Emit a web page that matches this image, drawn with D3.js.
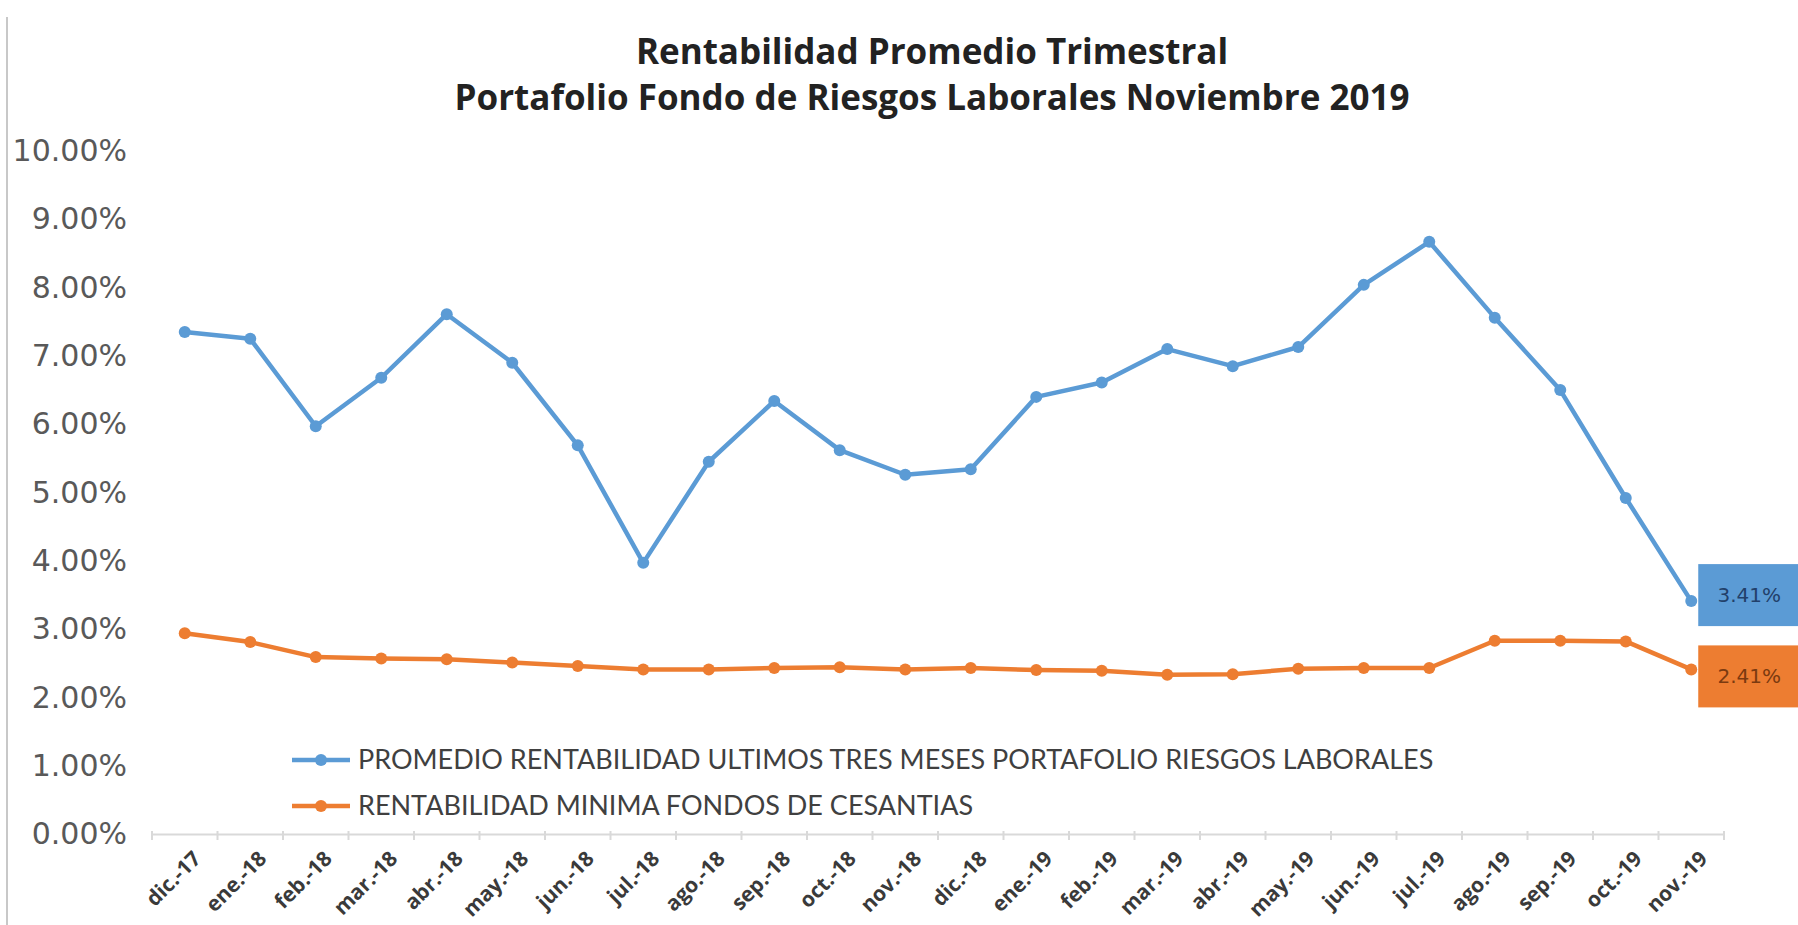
<!DOCTYPE html>
<html>
<head>
<meta charset="utf-8">
<script src="https://cdn.jsdelivr.net/npm/d3@7/dist/d3.min.js"></script>
<style>
  html, body { margin: 0; padding: 0; background: #fff; }
  #chart svg { display: block; }
</style>
</head>
<body>
<div id="chart"></div>
<script>
const $ = (element) => d3.select(element);

const categories = [
  "dic.-17", "ene.-18", "feb.-18", "mar.-18", "abr.-18", "may.-18",
  "jun.-18", "jul.-18", "ago.-18", "sep.-18", "oct.-18", "nov.-18",
  "dic.-18", "ene.-19", "feb.-19", "mar.-19", "abr.-19", "may.-19",
  "jun.-19", "jul.-19", "ago.-19", "sep.-19", "oct.-19", "nov.-19",
];
const promedio = [
  7.35, 7.25, 5.97, 6.68, 7.61, 6.9, 5.69, 3.97, 5.45, 6.34, 5.62, 5.26,
  5.34, 6.4, 6.61, 7.1, 6.85, 7.13, 8.04, 8.67, 7.56, 6.5, 4.92, 3.41,
];
const minima = [
  2.94, 2.81, 2.59, 2.57, 2.56, 2.51, 2.46, 2.41, 2.41, 2.43, 2.44, 2.41,
  2.43, 2.4, 2.39, 2.33, 2.34, 2.42, 2.43, 2.43, 2.83, 2.83, 2.82, 2.41,
];
const yTicks = [0, 1, 2, 3, 4, 5, 6, 7, 8, 9, 10];
const titleLines = [
  "Rentabilidad Promedio Trimestral",
  "Portafolio Fondo de Riesgos Laborales Noviembre 2019",
];
const seriesNames = [
  "PROMEDIO RENTABILIDAD ULTIMOS TRES MESES PORTAFOLIO RIESGOS LABORALES",
  "RENTABILIDAD MINIMA FONDOS DE CESANTIAS",
];

const width = 1798;
const height = 925;
const colors = { blue: "#5b9bd5", orange: "#ed7d31" };

const svg = $("#chart")
  .append("svg")
  .attr("width", width)
  .attr("height", height)
  .attr("viewBox", [0, 0, width, height]);

// thin frame edge on the left of the screenshot
svg.append("line")
  .attr("x1", 7).attr("x2", 7)
  .attr("y1", 17).attr("y2", height)
  .attr("stroke", "#c8c8c8")
  .attr("stroke-width", 2);

const x = d3.scalePoint().domain(categories).range([152, 1724]).padding(0.5);
const y = d3.scaleLinear().domain([0, 10]).range([834, 151]);

// title
svg.append("g")
  .selectAll("text")
  .data(titleLines)
  .join("text")
  .attr("x", 932)
  .attr("y", (d, i) => 64 + i * 46)
  .attr("text-anchor", "middle")
  .attr("font-family", "'Open Sans', sans-serif")
  .attr("font-weight", 700)
  .attr("font-size", 35)
  .attr("fill", "#222")
  .text((d) => d);

// y axis labels (no axis line, no gridlines)
const yAxis = svg.append("g")
  .attr("transform", "translate(127,0)")
  .call(d3.axisLeft(y).tickValues(yTicks).tickSize(0).tickPadding(0)
    .tickFormat((d) => d.toFixed(2) + "%"));
yAxis.select(".domain").remove();
yAxis.selectAll("text")
  .attr("font-family", "'DejaVu Sans', sans-serif")
  .attr("font-size", 30)
  .attr("fill", "#595959");

// x axis
const xAxis = svg.append("g")
  .attr("transform", "translate(0,834)")
  .call(d3.axisBottom(x).tickSize(0).tickPadding(0));
xAxis.select(".domain")
  .attr("stroke", "#d9d9d9")
  .attr("stroke-width", 2);
const step = x.step();
xAxis.selectAll(".edge")
  .data(d3.range(categories.length + 1))
  .join("line")
  .attr("class", "edge")
  .attr("x1", (i) => x.range()[0] + i * step)
  .attr("x2", (i) => x.range()[0] + i * step)
  .attr("y1", -3)
  .attr("y2", 6)
  .attr("stroke", "#d9d9d9")
  .attr("stroke-width", 2);
xAxis.selectAll(".tick text")
  .attr("font-family", "'Open Sans', sans-serif")
  .attr("font-weight", 700)
  .attr("font-size", 21)
  .attr("fill", "#3a3a3a")
  .attr("text-anchor", "end")
  .attr("dy", 0)
  .attr("transform", "translate(17,26) rotate(-45)");

// series lines
const line = d3.line()
  .x((d, i) => x(categories[i]))
  .y((d) => y(d));

const series = [
  { values: minima, color: colors.orange },
  { values: promedio, color: colors.blue },
];

series.forEach(({ values, color }) => {
  svg.append("path")
    .datum(values)
    .attr("fill", "none")
    .attr("stroke", color)
    .attr("stroke-width", 4.5)
    .attr("stroke-linejoin", "round")
    .attr("d", line);
  svg.append("g")
    .selectAll("circle")
    .data(values)
    .join("circle")
    .attr("cx", (d, i) => x(categories[i]))
    .attr("cy", (d) => y(d))
    .attr("r", 6)
    .attr("fill", color);
});

// labels on the last point
const lastLabels = [
  { value: promedio[promedio.length - 1], fill: colors.blue, text: "#22406a", dy: -6 },
  { value: minima[minima.length - 1], fill: colors.orange, text: "#7a3a10", dy: 7 },
];
const lastX = x(categories[categories.length - 1]);
lastLabels.forEach(({ value, fill, text, dy }) => {
  const cy = y(value) + dy;
  svg.append("rect")
    .attr("x", lastX + 7)
    .attr("y", cy - 31)
    .attr("width", 120)
    .attr("height", 62)
    .attr("fill", fill);
  svg.append("text")
    .attr("x", lastX + 58)
    .attr("y", cy)
    .attr("dy", "0.35em")
    .attr("text-anchor", "middle")
    .attr("font-family", "'DejaVu Sans', sans-serif")
    .attr("font-size", 20)
    .attr("fill", text)
    .text(value.toFixed(2) + "%");
});

// legend
const legend = svg.append("g")
  .selectAll("g")
  .data(seriesNames)
  .join("g")
  .attr("transform", (d, i) => `translate(292,${760 + i * 46})`);
legend.append("line")
  .attr("x1", 0).attr("x2", 58)
  .attr("stroke", (d, i) => [colors.blue, colors.orange][i])
  .attr("stroke-width", 4.5);
legend.append("circle")
  .attr("cx", 29)
  .attr("r", 6)
  .attr("fill", (d, i) => [colors.blue, colors.orange][i]);
legend.append("text")
  .attr("x", 66)
  .attr("dy", "0.35em")
  .attr("font-family", "Lato, sans-serif")
  .attr("font-size", 27)
  .attr("fill", "#404040")
  .text((d) => d);
</script>
</body>
</html>
